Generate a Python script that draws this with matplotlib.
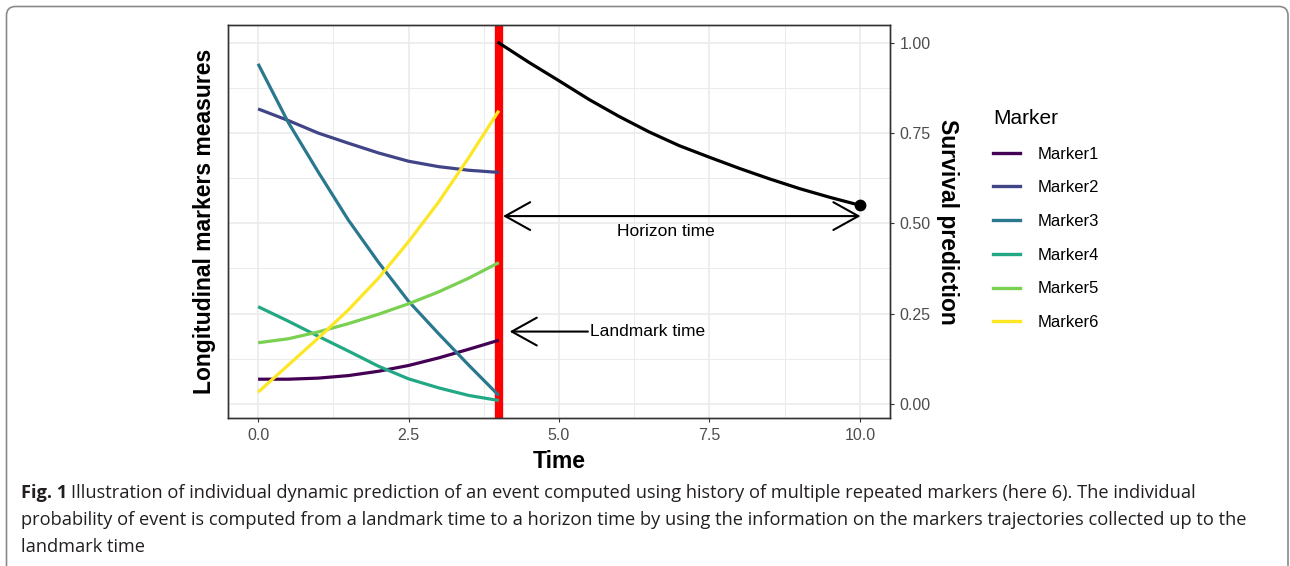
import numpy as np
import matplotlib.pyplot as plt
from matplotlib.patches import FancyBboxPatch
from matplotlib.transforms import IdentityTransform
from matplotlib.lines import Line2D

plt.rcParams['font.family'] = ['Liberation Sans', 'DejaVu Sans']

# === marker trajectories, observed up to the landmark time
marker_time = [0, 0.5, 1, 1.5, 2, 2.5, 3, 3.5, 4]
marker1 = [0.068, 0.068, 0.071, 0.078, 0.090, 0.106, 0.127, 0.151, 0.176]
marker2 = [0.817, 0.785, 0.750, 0.722, 0.695, 0.672, 0.657, 0.647, 0.641]
marker3 = [0.942, 0.780, 0.642, 0.509, 0.392, 0.284, 0.194, 0.107, 0.023]
marker4 = [0.269, 0.229, 0.187, 0.146, 0.104, 0.069, 0.044, 0.023, 0.009]
marker5 = [0.169, 0.180, 0.199, 0.222, 0.248, 0.277, 0.310, 0.348, 0.391]
marker6 = [0.032, 0.107, 0.182, 0.260, 0.348, 0.449, 0.559, 0.682, 0.812]
marker_names = ['Marker1', 'Marker2', 'Marker3', 'Marker4', 'Marker5', 'Marker6']
marker_colors = ['#440154', '#414487', '#2A788E', '#22A884', '#7AD151', '#FDE725']

# === survival prediction from landmark to horizon
surv_time = [4, 4.5, 5, 5.5, 6, 6.5, 7, 7.5, 8, 8.5, 9, 9.5, 10]
surv_prob = [1.0, 0.946, 0.895, 0.843, 0.796, 0.753, 0.715, 0.683, 0.652, 0.623, 0.596, 0.572, 0.55]

landmark = 4
horizon = 10
x_ticks = [0, 2.5, 5, 7.5, 10]
x_ticklabels = ['0.0', '2.5', '5.0', '7.5', '10.0']
y_ticks = [0, 0.25, 0.5, 0.75, 1.0]
y_ticklabels = ['0.00', '0.25', '0.50', '0.75', '1.00']

caption_lines = [
    "Illustration of individual dynamic prediction of an event computed using history of multiple repeated markers (here 6). The individual",
    "probability of event is computed from a landmark time to a horizon time by using the information on the markers trajectories collected up to the",
    "landmark time",
]

W, H = 1290, 566
fig = plt.figure(figsize=(W / 100, H / 100), dpi=100)
ax = fig.add_axes([228 / W, 1 - 418 / H, (890 - 228) / W, (418 - 25) / H])

ax.set_xlim(-0.5, 10.5)
ax.set_ylim(-0.0395, 1.0495)

ax.axvline(landmark, color='#FF0000', lw=6, zorder=2)

marker_data = [marker1, marker2, marker3, marker4, marker5, marker6]
for vals, c in zip(marker_data, marker_colors):
    ax.plot(marker_time, vals, color=c, lw=2.3, solid_capstyle='butt', zorder=3)

ax.plot(surv_time, surv_prob, color='black', lw=2.3, zorder=3)
ax.plot(surv_time[-1], surv_prob[-1], 'o', color='black', ms=7.5, zorder=4)

# horizon arrow
ax.annotate('', xy=(horizon + 0.01, 0.52), xytext=(landmark + 0.07, 0.52),
            arrowprops=dict(arrowstyle='<->,head_length=18,head_width=10', mutation_scale=1,
                            color='black', lw=1.5, shrinkA=0, shrinkB=0))
ax.text(6.78, 0.476, 'Horizon time', fontsize=12.5, ha='center', va='center', color='black')

# landmark arrow
ax.annotate('', xy=(landmark + 0.18, 0.20), xytext=(5.48, 0.20),
            arrowprops=dict(arrowstyle='->,head_length=18,head_width=10', mutation_scale=1,
                            color='black', lw=1.5, shrinkA=0, shrinkB=0))
ax.text(5.52, 0.20, 'Landmark time', fontsize=12.5, ha='left', va='center', color='black')

ax.set_xlabel('Time', fontsize=16.5, fontweight='bold', labelpad=5)
ax.set_ylabel('Longitudinal markers measures', fontsize=16.5, fontweight='bold', va='center')
ax.yaxis.set_label_coords(-(228 - 204) / 662, 0.5)

ax2 = ax.twinx()
ax2.set_ylim(ax.get_ylim())
ax2.set_yticks(y_ticks)
ax2.set_yticklabels(y_ticklabels)
ax2.tick_params(axis='y', length=3, width=0.8, color='#333333',
                labelcolor='#4D4D4D', labelsize=11.5, pad=4)
for s in ax2.spines.values():
    s.set_color('#333333')
    s.set_linewidth(1.0)
ax2.set_ylabel('Survival prediction', fontsize=16.5, fontweight='bold', rotation=270, va='center')
ax2.yaxis.set_label_coords((947 - 228) / 662, 0.5)

# grid and ticks of the main axes (after twinx, which turns left ticks back on)
ax.set_xticks(x_ticks)
ax.set_xticklabels(x_ticklabels)
ax.set_xticks([1.25, 3.75, 6.25, 8.75], minor=True)
ax.set_yticks(y_ticks)
ax.set_yticks([0.125, 0.375, 0.625, 0.875], minor=True)
ax.grid(which='major', color='#EBEBEB', lw=1.2)
ax.grid(which='minor', color='#EBEBEB', lw=0.7)
ax.set_axisbelow(True)
ax.tick_params(axis='y', which='both', left=False, right=False, labelleft=False, labelright=False)
ax.tick_params(axis='x', which='major', length=3, width=0.8, color='#333333',
               labelcolor='#4D4D4D', labelsize=11.5, pad=4)
ax.tick_params(axis='x', which='minor', length=0)
for s in ax.spines.values():
    s.set_color('#333333')
    s.set_linewidth(1.0)

# legend
handles = [Line2D([], [], color=c, lw=2.4) for c in marker_colors]
fig.legend(handles, marker_names, title='Marker', loc='upper left',
           bbox_to_anchor=(993 / W, 1 - 109 / H), frameon=False, fontsize=12,
           title_fontsize=15, alignment='left', handlelength=1.6, handletextpad=1.1,
           labelspacing=1.12, borderpad=0, borderaxespad=0)

# caption, sized so that the second line fills the panel width
cap_font = ['Open Sans', 'DejaVu Sans']
cap_size = 12.0
renderer = fig.canvas.get_renderer()
probe = fig.text(0, 0, caption_lines[1], fontsize=cap_size, family=cap_font)
probe_w = probe.get_window_extent(renderer).width
probe.remove()
cap_size = cap_size * (1240 - 21) / probe_w

t1 = fig.text(21 / W, 1 - 498 / H, 'Fig. 1', fontsize=cap_size, fontweight='bold',
              family=cap_font, color='#231F20', va='baseline')
ax.annotate(caption_lines[0], xy=(1, 0), xycoords=t1, xytext=(3, 0),
            textcoords='offset points', fontsize=cap_size, family=cap_font, color='#231F20',
            va='bottom', annotation_clip=False)
for i, line in enumerate(caption_lines[1:]):
    fig.text(21 / W, 1 - (525 + 27 * i) / H, line, fontsize=cap_size, family=cap_font,
             color='#231F20', va='baseline')

# rounded frame around the figure panel
frame = FancyBboxPatch((6.5, -20), 1281.5, H - 6.5 + 20,
                       boxstyle='round,pad=0,rounding_size=9',
                       transform=IdentityTransform(), fc='none', ec='#8A8A8A', lw=1.2)
fig.patches.append(frame)

fig.savefig('out.png', dpi=100)
